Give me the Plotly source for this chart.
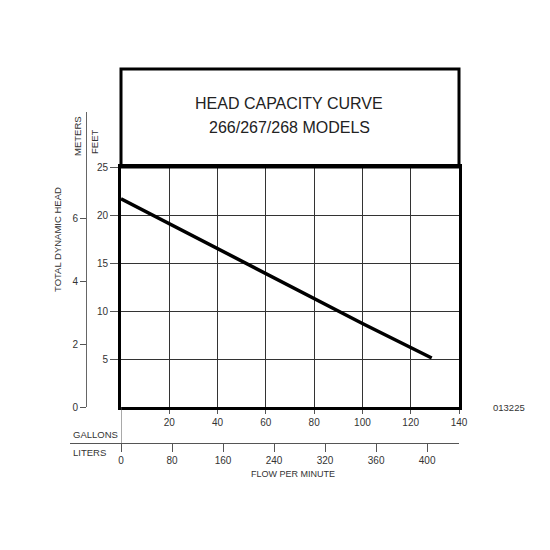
import plotly.graph_objects as go

# Data
gallons = [0, 20, 40, 60, 80, 100, 128.7]
head_ft = [21.7, 19.1, 16.5, 13.9, 11.3, 8.7, 5.1]

gal_ticks = [20, 40, 60, 80, 100, 120, 140]
ft_ticks = [5, 10, 15, 20, 25]
m_ticks = [0, 2, 4, 6]
liter_tickvals = [0, 80, 160, 240, 320, 400, 480]
liter_ticktext = ["0", "80", "160", "240", "320", "360", "400"]

FT_PER_M = 3.28084
L_PER_GAL = 3.78541

OFF = 8  # page body margin offset
W, H = 550, 550
# target pixel coordinates (in screenshot space)
X_LEFT_EDGE = 70
X_RIGHT = 459
Y_TOP = 69
Y_BOTTOM_EDGE = 452
x_left = 121
y_bot = 407
y_grid_top = 167
y_m_top = 112
y_liters = 443
x_m_axis = 86

L = X_LEFT_EDGE - OFF
T = Y_TOP - OFF
R = W - (X_RIGHT - OFF)
B = H - (Y_BOTTOM_EDGE - OFF)
pw = W - L - R
ph = H - T - B

def px(x):
    return (x - X_LEFT_EDGE) / pw

def py(y):
    return (Y_BOTTOM_EDGE - y) / ph

xdom0 = px(x_left)
ydom0 = py(y_bot)
ydom1 = py(y_grid_top)
y2dom1 = py(y_m_top)

px_per_ft = (y_bot - y_grid_top) / 25.0
px_per_m = px_per_ft * FT_PER_M
m_top = (y_bot - y_m_top) / px_per_m

px_per_gal = (X_RIGHT - x_left) / 140.0
px_per_l = px_per_gal / L_PER_GAL
l_min = -(x_left - X_LEFT_EDGE) / px_per_l
l_max = (X_RIGHT - x_left) / px_per_l

txt = "#333333"
font = "Liberation Sans, Arial, sans-serif"

fig = go.Figure()
fig.add_trace(go.Scatter(x=gallons, y=head_ft, mode="lines",
                         line=dict(color="black", width=3.5),
                         xaxis="x", yaxis="y", hoverinfo="skip"))
# invisible trace so the secondary (liters / meters) axes render
fig.add_trace(go.Scatter(x=[0], y=[0], mode="markers", marker=dict(opacity=0),
                         xaxis="x2", yaxis="y2", hoverinfo="skip"))

fig.update_layout(
    width=W, height=H,
    margin=dict(l=L, r=R, t=T, b=B, pad=0),
    paper_bgcolor="white", plot_bgcolor="rgba(0,0,0,0)",
    showlegend=False,
    font=dict(family=font, size=10, color=txt),
    xaxis=dict(domain=[xdom0, 1], range=[0, 140], anchor="y",
               tickvals=gal_ticks, ticks="outside", ticklen=4, tickcolor="#555555",
               showgrid=True, gridcolor="#333333", gridwidth=1,
               showline=True, linecolor="black", linewidth=3, mirror=True,
               zeroline=False, tickfont=dict(size=10, color=txt)),
    yaxis=dict(domain=[ydom0, ydom1], range=[0, 25], anchor="x",
               tickvals=ft_ticks, ticks="outside", ticklen=8, tickcolor="#555555",
               showgrid=True, gridcolor="#333333", gridwidth=1,
               showline=True, linecolor="black", linewidth=3, mirror=True,
               zeroline=False, tickfont=dict(size=10, color=txt)),
    yaxis2=dict(domain=[ydom0, y2dom1], range=[0, m_top], anchor="free",
                position=px(x_m_axis), side="left",
                tickvals=m_ticks, ticks="outside", ticklen=6, tickcolor="#555555",
                showgrid=False, showline=True, linecolor="#666666", linewidth=1,
                zeroline=False, tickfont=dict(size=10, color=txt)),
    xaxis2=dict(domain=[0, 1], range=[l_min, l_max], anchor="free",
                position=py(y_liters), side="bottom",
                tickvals=liter_tickvals, ticktext=liter_ticktext,
                ticks="outside", ticklen=8, tickcolor="#555555",
                showgrid=False, showline=True, linecolor="#555555", linewidth=1,
                zeroline=False, tickfont=dict(size=10, color=txt)),
)

# Title box
fig.add_shape(type="rect", xref="paper", yref="paper",
              x0=xdom0, x1=1, y0=ydom1, y1=1,
              line=dict(color="black", width=3), layer="above")
# vertical connector from plot bottom to liters axis
fig.add_shape(type="line", xref="x", yref="paper",
              x0=0, x1=0, y0=py(y_liters), y1=ydom0,
              line=dict(color="#555555", width=1))

def ann(text, x, y, size=10, angle=0, xanchor="center", color=txt):
    fig.add_annotation(text=text, xref="paper", yref="paper",
                       x=px(x), y=py(y),
                       xanchor=xanchor, yanchor="middle", showarrow=False,
                       textangle=angle, font=dict(size=size, color=color, family=font))

ann("HEAD CAPACITY CURVE", 289, 103, size=16, color="#222222")
ann("266/267/268 MODELS", 289, 127, size=16, color="#222222")
ann("TOTAL DYNAMIC HEAD", 57, 240, size=9.5, angle=-90)
ann("METERS", 77, 136, size=9.5, angle=-90)
ann("FEET", 94, 142, size=9.5, angle=-90)
ann("GALLONS", 71, 434, size=9.5, xanchor="left")
ann("LITERS", 71, 453, size=9.5, xanchor="left")
ann("FLOW PER MINUTE", 293, 474, size=9)
ann("013225", 509, 407, size=9.5)

fig.write_html("out.html")
